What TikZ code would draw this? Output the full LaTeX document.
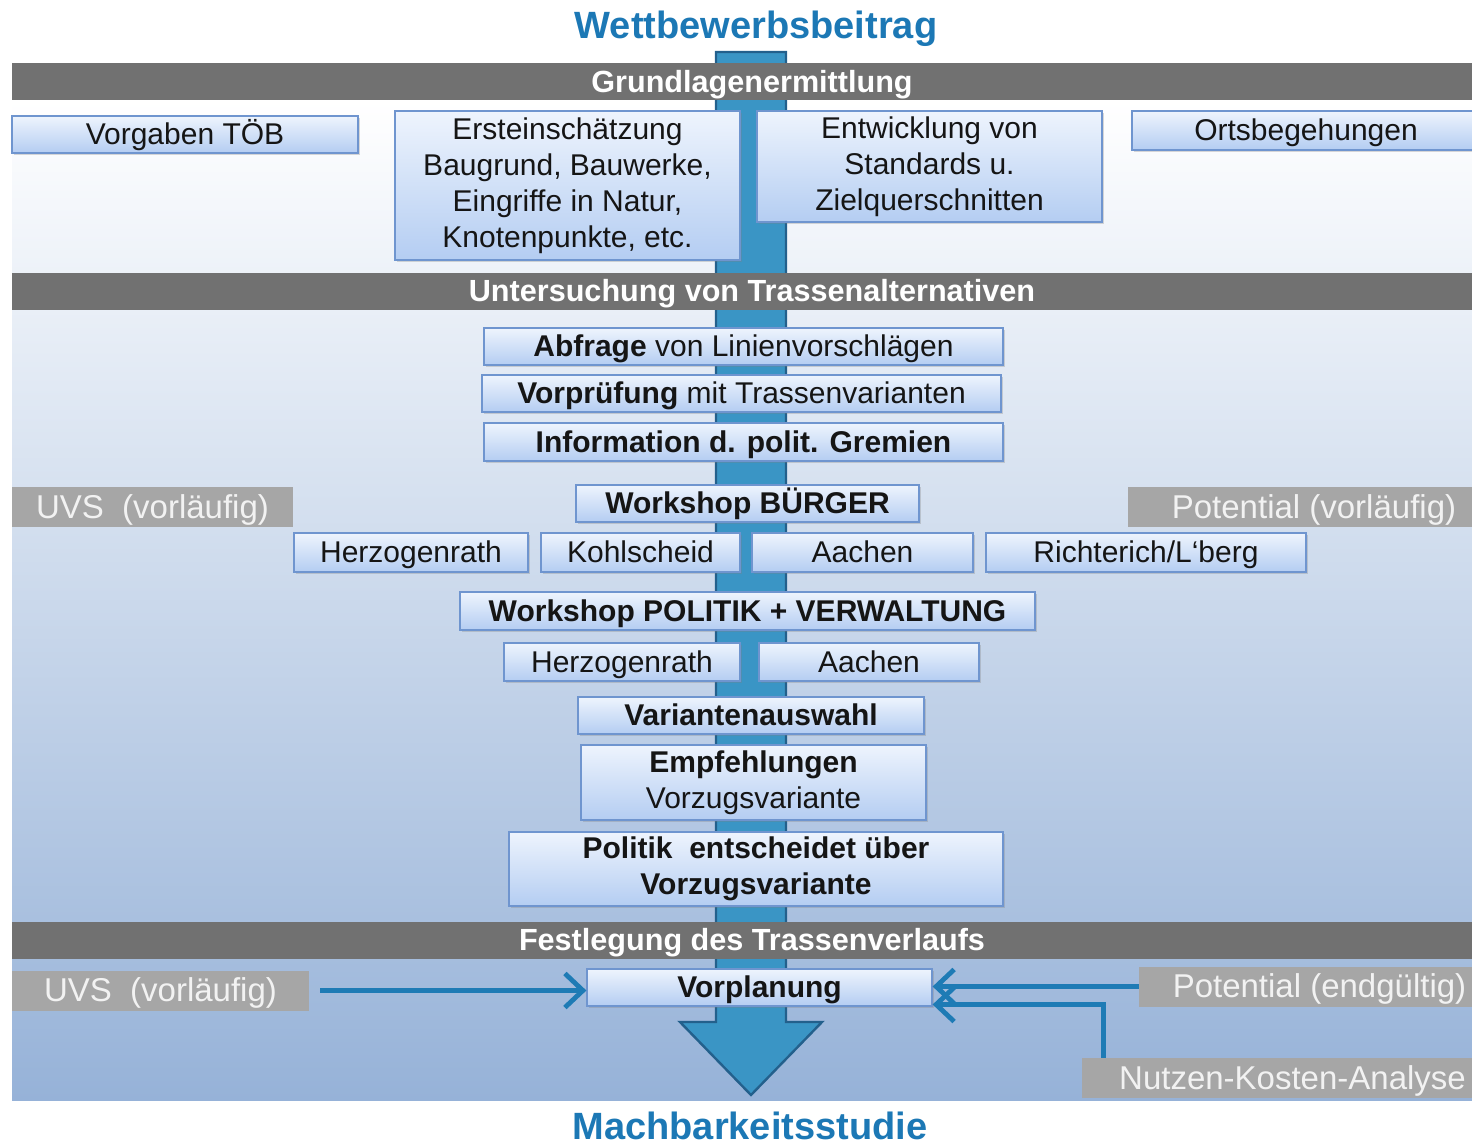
\documentclass[tikz,border=0pt]{standalone}
\usepackage{fontspec}
\setmainfont{Liberation Sans}
\usetikzlibrary{arrows.meta,shadows}
\definecolor{bargray}{HTML}{717171}
\definecolor{sidegray}{HTML}{A6A6A6}
\definecolor{sidetext}{HTML}{F2F2F2}
\definecolor{boxtop}{HTML}{EEF4FD}
\definecolor{boxbottom}{HTML}{B4CDF2}
\definecolor{boxborder}{HTML}{6F95CF}
\definecolor{boxtext}{HTML}{151515}
\definecolor{shaftfill}{HTML}{3A95C5}
\definecolor{shaftborder}{HTML}{23608C}
\definecolor{flowblue}{HTML}{1E7BB5}
\definecolor{headblue}{HTML}{1C78B5}
\definecolor{bgbottom}{HTML}{96B2D8}
\tikzset{
	box/.style={draw=boxborder, line width=0.6pt, top color=boxtop, bottom color=boxbottom, text=boxtext, font=\fontsize{15}{18}\selectfont, align=center, inner sep=0pt, minimum height=18.5pt, text height=11pt, text depth=0.6pt, drop shadow={shadow xshift=0.8pt, shadow yshift=-1.2pt, opacity=0.3}},
	multi/.style={text height={}, text depth={}},
	bar/.style={fill=bargray, text=white, font=\fontsize{15.3}{18}\selectfont\bfseries, inner sep=0pt, minimum width=740pt, minimum height=18.5pt, text height=11.2pt, text depth=0.6pt},
	side/.style={fill=sidegray, text=sidetext, font=\fontsize{16.5}{19}\selectfont, inner sep=0pt, minimum height=20pt, text height=12pt, text depth=0.6pt},
	flow/.style={draw=flowblue, line width=2.4pt, -{Straight Barb[length=9pt,width=17pt,line width=2.4pt]}},
	heading/.style={text=headblue, font=\fontsize{19}{22}\selectfont\bfseries, anchor=base, inner sep=0pt},
}
\begin{document}
\begin{tikzpicture}[x=0.5pt, y=-0.5pt]
	\useasboundingbox (0,0) rectangle (1472,1145);
	\fill [top color=white, bottom color=bgbottom] (12,100) rectangle (1472,1100);
	\filldraw [fill=shaftfill, draw=shaftborder, line width=1.2pt] (716,52) -- (786,52) -- (786,1022) -- (822,1022) -- (751,1095) -- (680,1022) -- (716,1022) -- cycle;

	\node (grundlagen) [bar] at (752,81.5) {Grundlagenermittlung};
	\node (untersuchung) [bar] at (752,291) {Untersuchung von Trassenalternativen};
	\node (festlegung) [bar] at (752,940) {Festlegung des Trassenverlaufs};

	\node (vorgaben) [box, minimum width=173pt] at (185,134.5) {Vorgaben TÖB};
	\node (ersteinschaetzung) [box, multi, minimum width=172.5pt, minimum height=74.5pt] at (567.5,185.5) {Ersteinschätzung\\Baugrund, Bauwerke,\\Eingriffe in Natur,\\Knotenpunkte, etc.};
	\node (entwicklung) [box, multi, minimum width=172.5pt, minimum height=55.5pt] at (929.5,166.5) {Entwicklung von\\Standards u.\\Zielquerschnitten};
	\node (ortsbegehungen) [box, minimum width=174pt, minimum height=19.5pt] at (1306,130.5) {Ortsbegehungen};

	\node (abfrage) [box, minimum width=259.5pt] at (743.5,346.5) {\textbf{Abfrage} von Linienvorschlägen};
	\node (vorpruefung) [box, minimum width=259.5pt] at (741.5,393.5) {\textbf{Vorprüfung} mit Trassenvarianten};
	\node (information) [box, minimum width=259.5pt, minimum height=19pt] at (743.5,442) {\textbf{Information d. polit. Gremien}};
	\node (wsbuerger) [box, minimum width=171.5pt] at (747.5,503.5) {\textbf{Workshop BÜRGER}};

	\node (uvsvorl) [side, minimum width=140.5pt] at (152.5,507) {UVS\ \ (vorläufig)};
	\node (potvorl) [side, minimum width=186pt] at (1314,507) {Potential (vorläufig)};

	\node (herzogenrathA) [box, minimum width=117pt, minimum height=19.5pt] at (411,552.5) {Herzogenrath};
	\node (kohlscheid) [box, minimum width=99.5pt, minimum height=19.5pt] at (640.5,552.5) {Kohlscheid};
	\node (aachenA) [box, minimum width=110.5pt, minimum height=19.5pt] at (862.5,552.5) {Aachen};
	\node (richterich) [box, minimum width=160pt, minimum height=19.5pt] at (1146,552.5) {Richterich/L‘berg};

	\node (wspolitik) [box, minimum width=287.5pt, minimum height=19pt] at (747.5,611) {\textbf{Workshop POLITIK + VERWALTUNG}};
	\node (herzogenrathB) [box, minimum width=118pt, minimum height=19pt] at (622,662) {Herzogenrath};
	\node (aachenB) [box, minimum width=110pt, minimum height=19pt] at (869,662) {Aachen};

	\node (variantenauswahl) [box, minimum width=173pt] at (751,715.5) {\textbf{Variantenauswahl}};
	\node (empfehlungen) [box, multi, minimum width=172.5pt, minimum height=37.5pt] at (753.5,782.5) {\textbf{Empfehlungen}\\Vorzugsvariante};
	\node (politik) [box, multi, minimum width=247pt, minimum height=37pt] at (756,869) {\textbf{Politik\ \ entscheidet über}\\\textbf{Vorzugsvariante}};

	\node (vorplanung) [box, minimum width=172.5pt] at (759.5,987.5) {\textbf{Vorplanung}};
	\node (uvsend) [side, minimum width=148.5pt] at (160.5,990.5) {UVS\ \ (vorläufig)};
	\node (potend) [side, minimum width=180.5pt] at (1319.5,986.5) {Potential (endgültig)};
	\node (nka) [side, minimum width=210.5pt] at (1292.5,1078) {Nutzen-Kosten-Analyse};

	\draw [flow, shorten <=5.5pt] (uvsend.east) -- (uvsend.east -| vorplanung.west);
	\draw [flow] (potend.west) -- (potend.west -| vorplanung.east);
	\draw [flow] ([xshift=11pt]nka.north west) |- ([yshift=-8.5pt]vorplanung.east);

	\node (wettbewerb) [heading] at (756,39) {Wettbewerbsbeitrag};
	\node (machbarkeit) [heading] at (750,1139) {Machbarkeitsstudie};
\end{tikzpicture}
\end{document}
